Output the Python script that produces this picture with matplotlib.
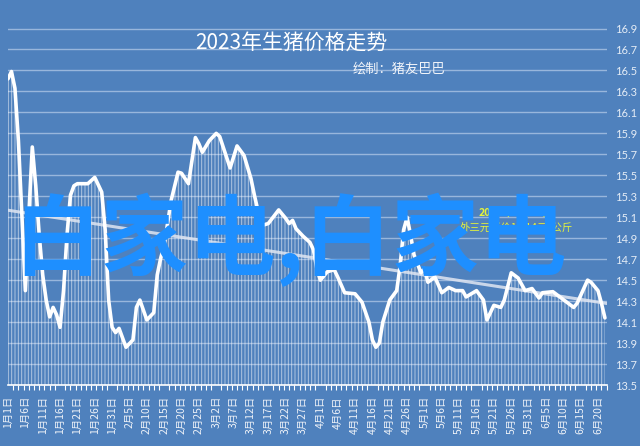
import datetime
import numpy as np
import matplotlib
matplotlib.use("Agg")
import matplotlib.pyplot as plt
from matplotlib.ticker import MultipleLocator, FixedLocator

# days counted from 2023-01-01, price in yuan/kg
days = [0, 1, 2, 3, 4, 5, 6, 7, 8, 9, 10, 11, 12, 13, 14, 15, 16, 17, 18, 19,
        20, 23, 25, 27, 28, 29, 30, 31, 32, 34, 36, 37, 38, 40, 42, 43, 44, 45,
        47, 49, 50, 52, 54, 55, 56, 58, 60, 61, 64, 66, 68, 70, 71, 73, 75, 78,
        80, 81, 82, 83, 85, 87, 88, 89, 90, 92, 94, 95, 97, 100, 102, 104, 105,
        106, 107, 108, 110, 112, 113, 114, 115, 116, 117, 119, 120, 121, 123,
        125, 127, 129, 131, 132, 135, 137, 138, 140, 142, 143, 145, 147, 149,
        151, 153, 154, 157, 159, 161, 163, 164, 167, 168, 170, 171, 172]
price = [16.42, 16.49, 16.33, 15.83, 15.12, 14.40, 15.12, 15.77, 15.40, 14.93,
         14.55, 14.31, 14.15, 14.24, 14.17, 14.05, 14.40, 14.93, 15.31, 15.40,
         15.42, 15.42, 15.48, 15.34, 14.98, 14.31, 14.05, 14.00, 14.04, 13.86,
         13.93, 14.24, 14.31, 14.12, 14.19, 14.55, 14.71, 14.83, 15.26, 15.53,
         15.52, 15.42, 15.86, 15.80, 15.72, 15.83, 15.90, 15.87, 15.57, 15.78,
         15.69, 15.47, 15.31, 15.02, 15.04, 15.17, 15.09, 15.04, 15.07, 14.99,
         14.92, 14.86, 14.79, 14.61, 14.50, 14.58, 14.60, 14.53, 14.38, 14.37,
         14.29, 14.10, 13.93, 13.86, 13.90, 14.10, 14.31, 14.40, 14.64, 14.98,
         15.10, 14.93, 14.74, 14.57, 14.61, 14.48, 14.53, 14.38, 14.43, 14.40,
         14.40, 14.34, 14.40, 14.31, 14.12, 14.26, 14.24, 14.31, 14.57, 14.52,
         14.40, 14.42, 14.33, 14.38, 14.39, 14.34, 14.29, 14.24, 14.28, 14.50,
         14.48, 14.40, 14.28, 14.14]

label_days = list(range(0, 171, 5))
y_ticks = [13.5, 13.7, 13.9, 14.1, 14.3, 14.5, 14.7, 14.9, 15.1, 15.3, 15.5,
           15.7, 15.9, 16.1, 16.3, 16.5, 16.7, 16.9]

title = "2023年生猪价格走势"
subtitle = "绘制：猪友巴巴"
note_lines = ["2023年6月22日", "外三元猪价14.14元/公斤"]
watermark = "白家电,白家电"

start = datetime.date(2023, 1, 1)
labels = []
for d in label_days:
    dt = start + datetime.timedelta(days=d)
    labels.append(f"{dt.month}月{dt.day}日")

BG = "#4f81bd"
GRID = "#98b6dc"
CJK = ["Noto Sans CJK SC", "DejaVu Sans"]
plt.rcParams["font.family"] = ["Lato", "Noto Sans CJK SC", "DejaVu Sans"]
plt.rcParams["hatch.linewidth"] = 0.7

fig = plt.figure(figsize=(6.4, 4.46), dpi=100, facecolor=BG)
ax = fig.add_axes([8 / 640, 61 / 446, 599 / 640, 357 / 446])
ax.set_facecolor(BG)

x = np.array(days, dtype=float)
y = np.array(price)

# drop lines under the curve
ax.fill_between(x, y, 13.5, facecolor="none", edgecolor=(1, 1, 1, 0.55),
                linewidth=0, hatch="|||||", zorder=2)
ax.plot(x, y, color="white", lw=2.6, solid_joinstyle="round",
        solid_capstyle="round", zorder=4)

# linear trend line
k, b = np.polyfit(x, y, 1)
tx = np.array([0, 172.6])
ax.plot(tx, k * tx + b, color=(0.88, 0.9, 0.95, 0.85), lw=2.2, zorder=3)

ax.set_xlim(0, 172.6)
ax.set_ylim(13.5, 16.905)
ax.yaxis.set_major_locator(FixedLocator(y_ticks))
ax.yaxis.tick_right()
ax.tick_params(axis="y", length=0, pad=6, labelsize=8, labelcolor="#e4ecf6")
ax.set_yticklabels([f"{v:.1f}" for v in y_ticks])
ax.grid(axis="y", color=GRID, lw=1, zorder=1)
ax.set_axisbelow(True)

ax.xaxis.set_major_locator(FixedLocator(label_days))
ax.set_xticklabels(labels, rotation=90, family=CJK)
ax.xaxis.set_minor_locator(MultipleLocator(1.5))
ax.tick_params(axis="x", which="major", length=0, pad=8, labelsize=7.5,
               labelcolor="#eef2f8")
ax.tick_params(axis="x", which="minor", length=3.5, width=0.8, color="white",
               direction="out")

for s in ("top", "left", "right"):
    ax.spines[s].set_visible(False)
ax.spines["bottom"].set_color("white")
ax.spines["bottom"].set_linewidth(1.2)

fig.text(291 / 640, 1 - 43 / 446, title, ha="center", va="center",
         fontsize=15, color="white", family=CJK)
fig.text(399 / 640, 1 - 69 / 446, subtitle, ha="center", va="center",
         fontsize=9.5, color="#f2f5fa", family=CJK)

fig.text(516 / 640, 1 - 213 / 446, note_lines[0], ha="center", va="center",
         fontsize=7.5, color="#e6f53a", weight="bold", family=CJK)
fig.text(516 / 640, 1 - 227 / 446, note_lines[1], ha="center", va="center",
         fontsize=7.5, color="#e6f53a", family=CJK)

fig.text(290 / 640, 1 - 268 / 446, watermark, ha="center", va="baseline",
         fontsize=63, color="#1e8fff", weight="bold", family=CJK, zorder=10)

fig.savefig("out.png", dpi=100, facecolor=BG)
